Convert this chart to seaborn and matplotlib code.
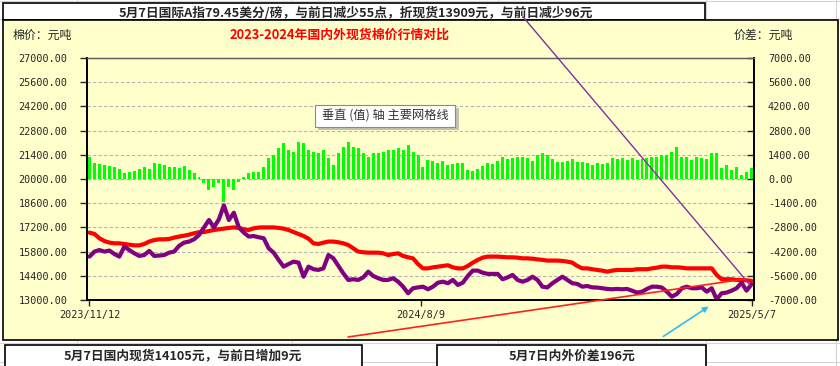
import numpy as np
import pandas as pd
import matplotlib
matplotlib.use("Agg")
import matplotlib.pyplot as plt
import seaborn as sns
from matplotlib.patches import Rectangle, FancyArrowPatch
from matplotlib.lines import Line2D

# --------------------------------------
# Data
# --------------------------------------

date_labels = ["2023/11/12", "2024/8/9", "2025/5/7"]

# domestic spot price (yuan/ton)
domestic = [
    16900, 16820, 16570, 16410, 16320, 16280, 16280, 16240, 16200, 16160, 16160, 16240, 16380, 16470, 16510, 16510, 16530,
    16610, 16670, 16720, 16780, 16860, 16920, 16930, 16990, 17050, 17090, 17130, 17170, 17200, 17170, 17090, 17050,
    17150, 17190, 17200, 17200, 17200, 17170, 17130, 17050, 16930, 16820, 16700, 16550, 16280, 16240, 16320, 16380, 16380,
    16340, 16280, 16180, 15990, 15800, 15760, 15740, 15740, 15740, 15700, 15600, 15660, 15700, 15550, 15470, 15410,
    15080, 14830, 14830, 14890, 14930, 14970, 15010, 14890, 14830, 14830, 14970, 15160, 15320, 15450, 15510, 15510, 15510,
    15490, 15470, 15470, 15450, 15410, 15410, 15390, 15350, 15320, 15280, 15280, 15280, 15260, 15220, 15160, 14970,
    14830, 14830, 14780, 14740, 14700, 14640, 14700, 14740, 14740, 14740, 14740, 14780, 14780, 14780, 14830, 14870, 14930,
    14930, 14890, 14890, 14870, 14830, 14830, 14830, 14830, 14830, 14830, 14450, 14200, 14200, 14200, 14160, 14160,
    14140, 14105,
]

# international A index converted to spot (yuan/ton)
international = [
    15510, 15800, 15890, 15800, 15860, 15660, 15510, 16090, 15890, 15700, 15550, 15600, 15840, 15550, 15570, 15600, 15740,
    15800, 16130, 16320, 16380, 16510, 16760, 17200, 17630, 17200, 17670, 18480, 17630, 18050, 17200, 16900, 16670,
    16700, 16630, 16570, 15990, 15740, 15320, 14930, 15080, 15220, 15160, 14350, 14930, 14780, 14740, 14830, 15600, 15410,
    14970, 14540, 14160, 14200, 14160, 14310, 14640, 14390, 14260, 14160, 14160, 14260, 14060, 13770, 13390, 13680,
    13730, 13770, 13620, 13770, 14000, 14060, 13970, 14160, 13870, 14000, 14390, 14700, 14700, 14580, 14510, 14510, 14510,
    14200, 14310, 14450, 14160, 14060, 14160, 14350, 14160, 13770, 13730, 13970, 14160, 14350, 14160, 13970, 13930,
    13770, 13810, 13730, 13720, 13680, 13640, 13620, 13640, 13620, 13640, 13540, 13430, 13480, 13640, 13770, 13770, 13720,
    13480, 13190, 13350, 13680, 13770, 13680, 13680, 13730, 13480, 13680, 13040, 13390, 13430, 13540, 13680, 14000,
    13540, 13909,
]

# price difference (yuan/ton)
spread = [
    1290, 910, 870, 810, 750, 670, 560, 330, 420, 480, 560, 670, 560, 910, 870, 810, 720,
    670, 620, 750, 520, 330, 130, -250, -640, -440, -210, -1310, -440, -640, -150, 100, 330,
    420, 420, 710, 1200, 1390, 1770, 2060, 1680, 1580, 2160, 2060, 1680, 1580, 1480, 1680, 1200, 810,
    1480, 1870, 2160, 1870, 1770, 1480, 1290, 1480, 1480, 1580, 1680, 1680, 1770, 1680, 1970, 1580,
    1390, 710, 1100, 1060, 910, 1060, 810, 870, 950, 910, 520, 480, 560, 750, 910, 870, 1060,
    1290, 1140, 1200, 1290, 1250, 1200, 1060, 1390, 1520, 1390, 1140, 1000, 1000, 1060, 1140, 1000,
    1000, 950, 810, 910, 870, 950, 1200, 1140, 1200, 1100, 1200, 1100, 1140, 1200, 1290, 1250, 1390,
    1390, 1580, 1830, 1290, 1290, 1100, 1290, 1200, 1140, 1480, 1520, 620, 810, 520, 670, 230,
    420, 620,
]

df = pd.DataFrame({
    "idx": np.arange(len(domestic)),
    "domestic": domestic,
    "international": international,
    "spread": spread,
})
n = len(df)

# --------------------------------------
# Style
# --------------------------------------

sns.set_style("ticks")
plt.rcParams["font.family"] = ["Noto Sans CJK SC", "DejaVu Sans"]

W, H = 840, 366
fig = plt.figure(figsize=(W / 100, H / 100), dpi=100)
fig.patch.set_facecolor("white")


def fx(x):
    return x / W


def fy(y):
    return 1 - y / H


# Excel sheet grid behind everything
for gx in [77, 292, 498, 706, 836]:
    fig.add_artist(Line2D([fx(gx), fx(gx)], [0, 1], color="#d4d4d4", lw=0.8, zorder=0))
for gy in [1, 19, 343, 362]:
    fig.add_artist(Line2D([0, 1], [fy(gy), fy(gy)], color="#d4d4d4", lw=0.8, zorder=0))

# top text box
fig.add_artist(Rectangle((fx(3), fy(20)), fx(702), 17 / H, facecolor="white",
                         edgecolor="black", lw=1.2, zorder=1))
fig.text(fx(356), fy(13), "5月7日国际A指79.45美分/磅，与前日减少55点，折现货13909元，与前日减少96元",
         ha="center", va="center", fontsize=9.2, fontweight="bold", zorder=5)

# yellow chart panel
fig.add_artist(Rectangle((fx(3), fy(340)), fx(835), 320 / H, facecolor="#ffffcc",
                         edgecolor="black", lw=1.2, zorder=2))

fig.text(fx(13), fy(35), "棉价：元吨", ha="left", va="center", fontsize=8.6, zorder=5)
fig.text(fx(734), fy(35), "价差：元吨", ha="left", va="center", fontsize=8.6, zorder=5)
fig.text(fx(340), fy(35), "2023-2024年国内外现货棉价行情对比", ha="center", va="center",
         fontsize=9.3, fontweight="bold", color="red", zorder=5)

# --------------------------------------
# Plot area
# --------------------------------------

ax = fig.add_axes([fx(87), fy(300), fx(754) - fx(87), fy(58) - fy(300)])
ax.set_zorder(3)
ax.set_facecolor("#ffffcc")

# spread bars (right scale)
sns.barplot(data=df, x="idx", y="spread", color="#00ff00", saturation=1,
            width=0.6, linewidth=0, ax=ax)
ax.set_ylim(-7000, 7000)
ax.set_yticks(np.arange(-7000, 7001, 1400))
ax.set_yticklabels([f"{v:.2f}" for v in np.arange(-7000, 7001, 1400)])
ax.yaxis.grid(True, color="#b4b4b4", linestyle=(0, (3, 2)), linewidth=0.8)
ax.set_axisbelow(True)

# price lines (left scale)
ax2 = ax.twinx()
ax2.set_zorder(3.5)
ax2.patch.set_visible(False)
sns.lineplot(data=df, x="idx", y="domestic", color="#ff0000", linewidth=3.0, ax=ax2)
sns.lineplot(data=df, x="idx", y="international", color="#800080", linewidth=3.0, ax=ax2)
ax2.set_ylim(13000, 27000)
ax2.set_yticks(np.arange(13000, 27001, 1400))
ax2.set_yticklabels([f"{v:.2f}" for v in np.arange(13000, 27001, 1400)])

# left labels for prices, right labels for spread
ax2.yaxis.tick_left()
ax2.yaxis.set_label_position("left")
ax.yaxis.tick_right()
ax.yaxis.set_label_position("right")

for a in (ax, ax2):
    a.set_xlim(-0.5, n - 0.5)
    a.set_xlabel("")
    a.set_ylabel("")
    for s in a.spines.values():
        s.set_visible(True)
        s.set_color("black")
        s.set_linewidth(1.3)
    a.spines["top"].set_color("#606060")
    a.spines["top"].set_linewidth(0.9)

ax.set_xticks([0, (n - 1) / 2, n - 1])
ax.set_xticklabels(date_labels)
ax.tick_params(axis="x", length=4, width=1, pad=3, labelsize=7.3)
ax.tick_params(axis="y", direction="in", length=5, width=1, pad=10, labelsize=7.3)
ax2.tick_params(axis="y", direction="out", length=5, width=1, pad=9, labelsize=7.3)
for lab in ax.get_xticklabels() + ax.get_yticklabels() + ax2.get_yticklabels():
    lab.set_fontfamily("DejaVu Sans Mono")

# tooltip box
fig.add_artist(Rectangle((fx(318), fy(130)), fx(141), 22 / H, facecolor="#9a9a9a",
                         edgecolor="none", alpha=0.6, zorder=6))
fig.add_artist(Rectangle((fx(315), fy(127)), fx(140), 22 / H, facecolor="white",
                         edgecolor="#8a8a8a", lw=0.8, zorder=7))
fig.text(fx(385), fy(116), "垂直 (值) 轴 主要网格线", ha="center", va="center",
         fontsize=8.8, color="#333333", zorder=8)

# --------------------------------------
# Callout lines and bottom boxes
# --------------------------------------

fig.add_artist(Line2D([fx(524), fx(750)], [fy(18), fy(285)], color="#8030a0", lw=1.0, zorder=9))
fig.add_artist(Line2D([fx(348), fx(745)], [fy(337), fy(279)], color="#ff2020", lw=1.2, zorder=9))
fig.add_artist(FancyArrowPatch((fx(661), fy(338)), (fx(711), fy(305)), transform=fig.transFigure,
                               arrowstyle="-|>", mutation_scale=8, color="#33bbee", lw=1.2, zorder=9))

fig.add_artist(Rectangle((fx(5), fy(368)), fx(357), 23 / H, facecolor="white",
                         edgecolor="black", lw=1.2, zorder=4))
fig.text(fx(183), fy(356), "5月7日国内现货14105元，与前日增加9元", ha="center", va="center",
         fontsize=9.2, fontweight="bold", zorder=5)
fig.add_artist(Rectangle((fx(437), fy(368)), fx(269), 23 / H, facecolor="white",
                         edgecolor="black", lw=1.2, zorder=4))
fig.text(fx(572), fy(356), "5月7日内外价差196元", ha="center", va="center",
         fontsize=9.2, fontweight="bold", zorder=5)

fig.savefig("out.png", dpi=100, facecolor="white")
